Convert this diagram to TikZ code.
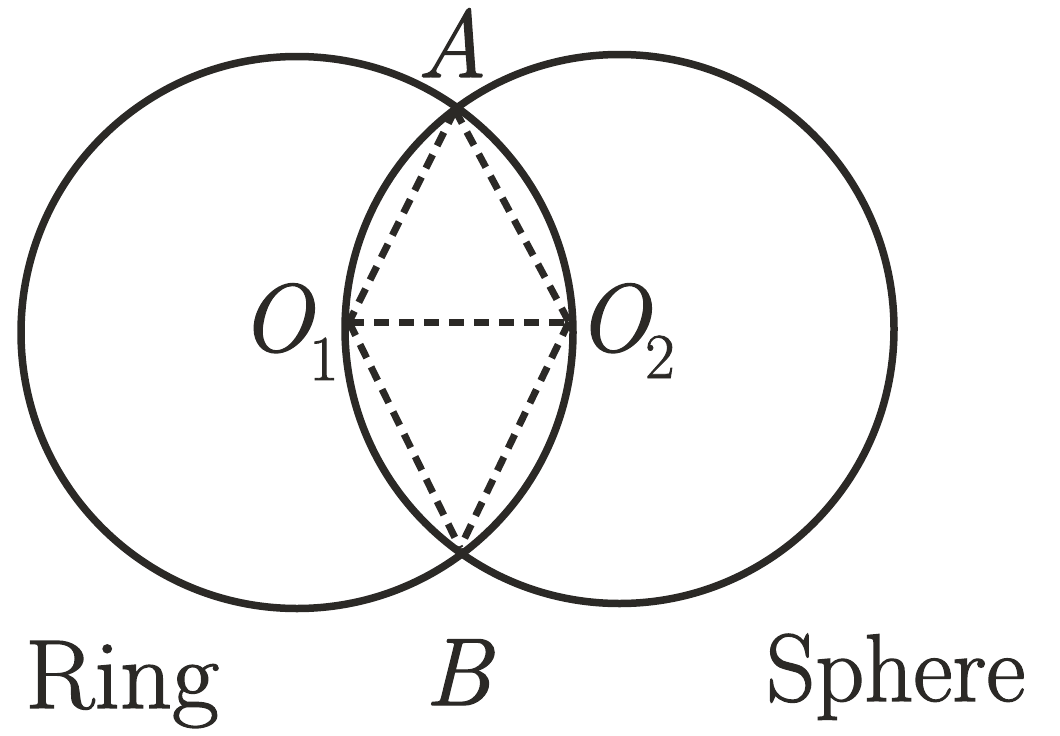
\documentclass[tikz,border=0pt]{standalone}
\usepackage{fontspec}
\newfontfamily\lblfont{Latin Modern Roman}[FakeBold=1.4]
\definecolor{ink}{RGB}{43,41,38}
\begin{document}
\begin{tikzpicture}[x=1pt,y=-1pt,
  circ/.style={draw=ink,line width=7.5pt},
  dline/.style={draw=ink,line width=7pt,dash pattern=on 15pt off 10pt},
  lbl/.style={inner sep=0pt,text=ink,font=\lblfont\fontsize{96}{96}\selectfont}]
\useasboundingbox (0,0) rectangle (1060,736);
% circle centres (not drawn)
\coordinate (C1) at (297,332.5);
\coordinate (C2) at (619.5,329);
\draw[circ] (C1) circle[radius=276pt];
\draw[circ] (C2) circle[radius=274.5pt];
% points
\coordinate (A) at (455,110);
\coordinate (B) at (460,548);
\coordinate (O1) at (349,322);
\coordinate (O2) at (569,322);
\draw[dline] (A) -- (O1);
\draw[dline] (A) -- (O2);
\draw[dline] (O1) -- (O2);
\draw[dline] (O1) -- (B);
\draw[dline] (O2) -- (B);
% labels
\node[lbl,anchor=base] (lA) at (452,77) {\itshape A};
\node[lbl,anchor=base] (lB) at (458,705) {\itshape B};
\node[lbl,anchor=base west] (lO1) at (240,351) {{\itshape O}\kern-3pt\raisebox{-29pt}{\fontsize{64}{64}\selectfont 1}};
\node[lbl,anchor=base west] (lO2) at (577,351) {{\itshape O}\kern-4pt\raisebox{-27pt}{\fontsize{64}{64}\selectfont 2}};
\node[lbl,anchor=base west,font=\lblfont\fontsize{98}{98}\selectfont,xscale=1.04] (ring) at (25,708) {Ring};
\node[lbl,anchor=base west,font=\lblfont\fontsize{96}{96}\selectfont] (sphere) at (766,701) {Sphere};
\end{tikzpicture}
\end{document}
